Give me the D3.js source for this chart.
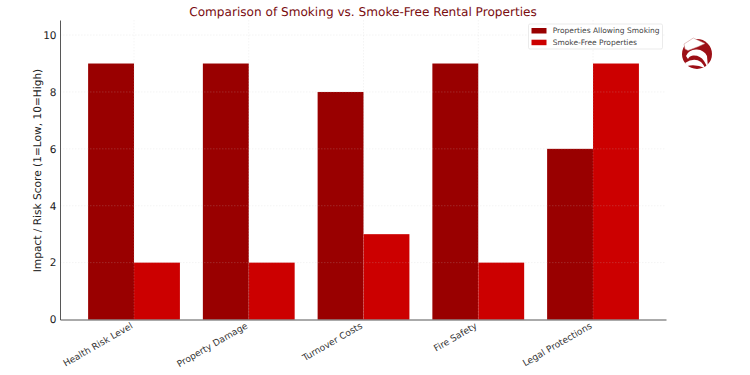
<!DOCTYPE html>
<html>
<head>
<meta charset="utf-8">
<script src="https://cdn.jsdelivr.net/npm/d3@7"></script>
<style>
  html, body { margin: 0; padding: 0; background: #fff; }
  text { font-family: "DejaVu Sans", sans-serif; text-rendering: geometricPrecision; }
</style>
</head>
<body>
<div id="chart"></div>
<script>
const categories = ['Health Risk Level', 'Property Damage', 'Turnover Costs', 'Fire Safety', 'Legal Protections'];
const smokingValues = [9, 9, 8, 9, 6];
const smokeFreeValues = [2, 2, 3, 2, 9];
const yTicks = [0, 2, 4, 6, 8, 10];
const seriesNames = ['Properties Allowing Smoking', 'Smoke-Free Properties'];
const seriesColors = ['#990000', '#cc0000'];

const width = 750, height = 375;
const plotLeft = 60, plotRight = 666, plotTop = 20, plotBottom = 319.5;
const barWidth = 0.4;

const svg = d3.select('#chart').append('svg')
  .attr('width', width)
  .attr('height', height)
  .style('display', 'block');

const x = d3.scaleLinear().domain([-0.645, 4.636]).range([plotLeft, plotRight]);
const y = d3.scaleLinear().domain([0, 10.53]).range([plotBottom, plotTop]);

[smokingValues, smokeFreeValues].forEach(function (values, s) {
  svg.append('g').selectAll('rect')
    .data(values)
    .enter()
    .append('rect')
    .attr('x', (d, i) => x(i + (s - 1) * barWidth))
    .attr('width', x(barWidth) - x(0))
    .attr('y', d => y(d))
    .attr('height', d => y(0) - y(d))
    .attr('fill', seriesColors[s]);
});

// faint grid, it shows through on top of the bars
const grid = svg.append('g').attr('stroke', '#c8c8c8').attr('stroke-opacity', 0.25).attr('stroke-width', 0.8).attr('stroke-dasharray', '1.5,1.5');
grid.selectAll('.gy').data(yTicks.slice(1)).enter().append('line')
  .attr('class', 'gy')
  .attr('x1', plotLeft).attr('x2', plotRight)
  .attr('y1', d => y(d)).attr('y2', d => y(d));
grid.selectAll('.gx').data(categories).enter().append('line')
  .attr('class', 'gx')
  .attr('x1', (d, i) => x(i)).attr('x2', (d, i) => x(i))
  .attr('y1', plotTop).attr('y2', plotBottom);

const yAxis = svg.append('g')
  .attr('transform', `translate(${plotLeft},0)`)
  .call(d3.axisLeft(y).tickValues(yTicks).tickSize(0).tickPadding(3.5));
yAxis.selectAll('text').attr('font-size', 10.5).attr('fill', '#222');
yAxis.select('.domain').attr('stroke', '#444').attr('stroke-width', 0.9);

const xAxis = svg.append('g')
  .attr('transform', `translate(0,${plotBottom})`)
  .call(d3.axisBottom(x).tickValues(d3.range(categories.length)).tickFormat(i => categories[i]).tickSize(0));
xAxis.select('.domain').attr('stroke', '#444').attr('stroke-width', 0.9);
xAxis.selectAll('text')
  .attr('font-size', 9.1)
  .attr('fill', '#333')
  .attr('text-anchor', 'end')
  .attr('dy', 0)
  .attr('transform', 'translate(-2.5,5.5) rotate(-30)');

svg.append('text')
  .attr('x', 363).attr('y', 16)
  .attr('text-anchor', 'middle')
  .attr('font-size', 12.1)
  .attr('fill', '#7a0c10')
  .text('Comparison of Smoking vs. Smoke-Free Rental Properties');

svg.append('text')
  .attr('transform', 'translate(41,170.5) rotate(-90)')
  .attr('text-anchor', 'middle')
  .attr('font-size', 10.6)
  .attr('fill', '#222')
  .text('Impact / Risk Score (1=Low, 10=High)');

// legend
const legend = svg.append('g').attr('transform', 'translate(528.5,24)');
legend.append('rect')
  .attr('width', 134).attr('height', 25).attr('rx', 1.5)
  .attr('fill', '#fff').attr('stroke', '#e2e2e2').attr('stroke-width', 0.7);
const item = legend.selectAll('g').data(seriesNames).enter().append('g')
  .attr('transform', (d, i) => `translate(3,${7 + i * 11.7})`);
item.append('rect')
  .attr('y', -3).attr('width', 15).attr('height', 5.5)
  .attr('fill', (d, i) => seriesColors[i]);
item.append('text')
  .attr('x', 21.2).attr('y', 2.4)
  .attr('font-size', 7.5)
  .attr('fill', '#444')
  .text(d => d);

// logo top right
const logo = svg.append('g').attr('transform', 'translate(697,54)');
logo.append('circle').attr('r', 15).attr('fill', '#9c0f16');
logo.append('path').attr('d', 'M-13,-10 L-3.7,-16 L8,-10.5 L1.5,-7.5 L-9,-3.5 L-12,-5 Z').attr('fill', '#fff').attr('stroke', '#c98a8a').attr('stroke-width', 0.5);
logo.append('path').attr('d', 'M-11,2 Q-8,-5 0,-4.5 Q7,-4 10,2 L11,14 L7,7 Q3,1 -4,1.5 Q-8,2 -9,5 Z').attr('fill', '#fff');
logo.append('path').attr('d', 'M-12,9 Q-3,3 4,8 Q7,11 8,14 Q-1,10 -10,12 Z').attr('fill', '#fff');
</script>
</body>
</html>
